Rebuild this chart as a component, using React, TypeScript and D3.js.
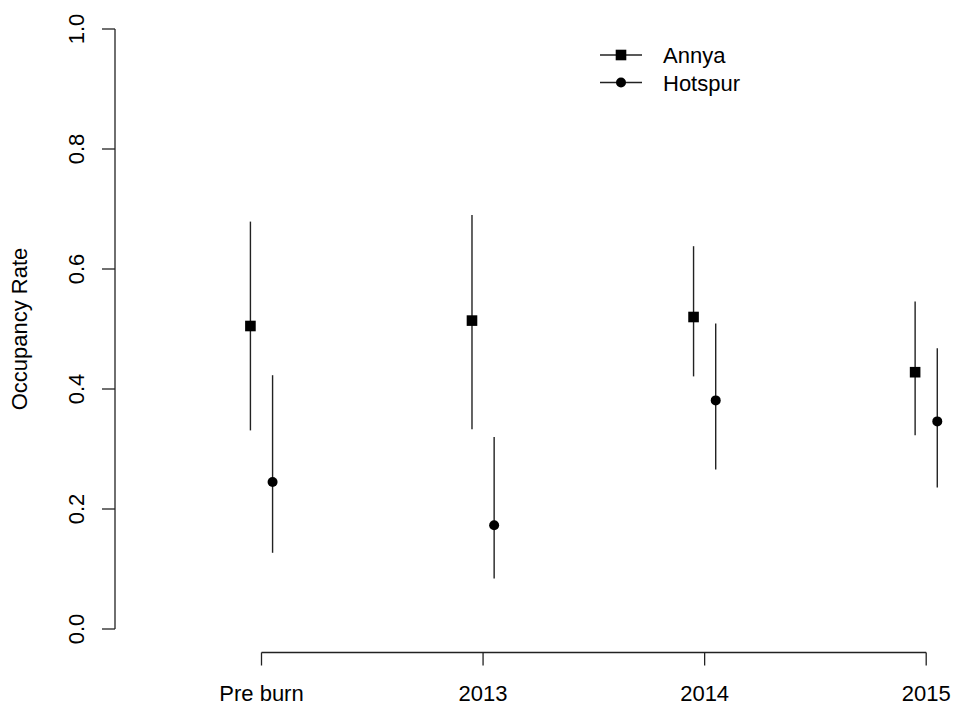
import React from "react";
import * as d3 from "d3";

const categories = ["Pre burn", "2013", "2014", "2015"];
const annyaMean = [0.505, 0.514, 0.520, 0.428];
const annyaLower = [0.331, 0.333, 0.421, 0.323];
const annyaUpper = [0.679, 0.690, 0.638, 0.546];
const hotspurMean = [0.245, 0.173, 0.381, 0.346];
const hotspurLower = [0.127, 0.084, 0.266, 0.236];
const hotspurUpper = [0.423, 0.320, 0.509, 0.468];
const yTicks = [0, 0.2, 0.4, 0.6, 0.8, 1.0];
const seriesNames = ["Annya", "Hotspur"];

const W = 953;
const H = 705;
const FONT = "'Liberation Sans', Arial, Helvetica, sans-serif";
const INK = "#222";

export default function App() {
  const x = d3.scaleLinear().domain([1, 4]).range([261.5, 926.2]);
  const y = d3.scaleLinear().domain([0, 1]).range([629, 29]);
  const off = 0.05;
  const axisX = 115;
  const axisY = 652.5;
  const tick = 13;

  const series = [
    { name: seriesNames[0], mean: annyaMean, lo: annyaLower, hi: annyaUpper, dx: -off, shape: "square" },
    { name: seriesNames[1], mean: hotspurMean, lo: hotspurLower, hi: hotspurUpper, dx: off, shape: "circle" },
  ];

  const marker = (shape: string, cx: number, cy: number, key: string) =>
    shape === "square" ? (
      <rect key={key} x={cx - 5.3} y={cy - 5.3} width={10.6} height={10.6} fill="#000" />
    ) : (
      <circle key={key} cx={cx} cy={cy} r={5} fill="#000" />
    );

  return (
    <svg width={W} height={H} style={{ position: "absolute", left: 0, top: 0, background: "#fff" }} fontFamily={FONT}>
      <rect x={0} y={0} width={W} height={H} fill="#fff" />
      {/* Y axis */}
      <line x1={axisX} x2={axisX} y1={y(0)} y2={y(1)} stroke={INK} strokeWidth={1.3} />
      {yTicks.map((t) => (
        <g key={"yt" + t}>
          <line x1={axisX - tick} x2={axisX} y1={y(t)} y2={y(t)} stroke={INK} strokeWidth={1.3} />
          <text
            transform={`translate(${84},${y(t)}) rotate(-90)`}
            textAnchor="middle"
            fontSize={22}
            fill="#000"
          >
            {t.toFixed(1)}
          </text>
        </g>
      ))}
      <text
        transform={`translate(${27},${(y(0) + y(1)) / 2}) rotate(-90)`}
        textAnchor="middle"
        fontSize={22}
        fill="#000"
      >
        Occupancy Rate
      </text>
      {/* X axis */}
      <line x1={x(1)} x2={x(4)} y1={axisY} y2={axisY} stroke={INK} strokeWidth={1.3} />
      {categories.map((c, i) => (
        <g key={"xt" + c}>
          <line x1={x(i + 1)} x2={x(i + 1)} y1={axisY} y2={axisY + tick} stroke={INK} strokeWidth={1.3} />
          <text x={x(i + 1)} y={700.5} textAnchor="middle" fontSize={22} fill="#000">
            {c}
          </text>
        </g>
      ))}
      {/* Error bars and points */}
      {series.map((s) =>
        categories.map((c, i) => {
          const cx = x(i + 1 + s.dx);
          return (
            <g key={s.name + c}>
              <line x1={cx} x2={cx} y1={y(s.lo[i])} y2={y(s.hi[i])} stroke={INK} strokeWidth={1.4} />
              {marker(s.shape, cx, y(s.mean[i]), "m")}
            </g>
          );
        })
      )}
      {/* Legend */}
      {series.map((s, k) => {
        const ly = 55 + k * 27.5;
        return (
          <g key={"lg" + s.name}>
            <line x1={600} x2={642} y1={ly} y2={ly} stroke={INK} strokeWidth={1.3} />
            {marker(s.shape, 621, ly, "lm")}
            <text x={663} y={ly + 8} fontSize={22} fill="#000">
              {s.name}
            </text>
          </g>
        );
      })}
    </svg>
  );
}
